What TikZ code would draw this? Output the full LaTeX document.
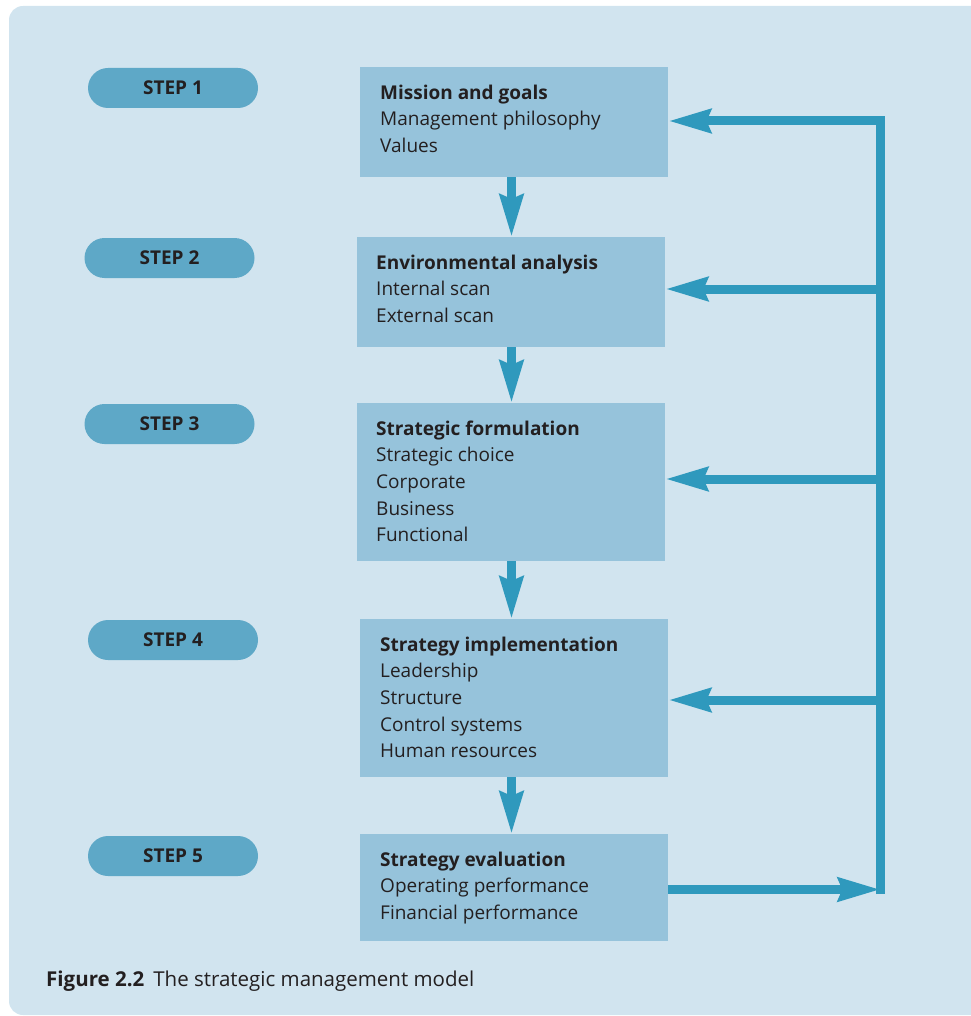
\documentclass[tikz,border=0pt]{standalone}
\usepackage{fontspec}
\setmainfont{Open Sans}
\usetikzlibrary{arrows.meta,calc}
\definecolor{panelbg}{HTML}{D1E4EF}
\definecolor{boxfill}{HTML}{96C3DB}
\definecolor{pillfill}{HTML}{5EA8C7}
\definecolor{flowblue}{HTML}{2F99BD}
\definecolor{ink}{HTML}{231F20}
\tikzset{
  stagebox/.style={fill=boxfill, draw=none, minimum width=308pt, anchor=north west, inner sep=0pt},
  stagetext/.style={anchor=north west, inner sep=0pt, align=left, text=ink,
    font=\fontsize{19}{26.7}\selectfont},
  pill/.style={fill=pillfill, draw=none, rounded corners=20pt, minimum width=170pt,
    minimum height=40pt, inner sep=0pt, text=ink, font=\fontsize{19}{21}\selectfont\bfseries},
  flow/.style={draw=flowblue, line width=9pt, line join=miter,
    -{Stealth[length=42pt, width=23pt, inset=4pt]}},
  fline/.style={draw=flowblue, line width=9pt, line join=miter}
}
\begin{document}
\begin{tikzpicture}[x=1pt, y=-1pt]
\useasboundingbox (0,0) rectangle (970,1016);
% panel
\fill[panelbg, rounded corners=14pt] (9,6) rectangle (990,1015);

% step labels
\node[pill] (s1) at (173,88) {STEP 1};
\node[pill] (s2) at (169.5,258) {STEP 2};
\node[pill] (s3) at (169.5,424) {STEP 3};
\node[pill] (s4) at (173,640) {STEP 4};
\node[pill] (s5) at (173,856) {STEP 5};

% stage boxes
\node[stagebox, minimum height=110pt] (b1) at (360,67) {};
\node[stagebox, minimum height=110pt] (b2) at (357,237) {};
\node[stagebox, minimum height=158pt] (b3) at (357,403) {};
\node[stagebox, minimum height=158pt] (b4) at (360,619) {};
\node[stagebox, minimum height=107pt] (b5) at (360,834) {};

% box texts (first baseline 32pt below the box top)
\node[stagetext] (t1) at ($(b1.north west)+(20,13.3)$) {\strut\textbf{Mission and goals}\\Management philosophy\\Values};
\node[stagetext] (t2) at ($(b2.north west)+(19,13.3)$) {\strut\textbf{Environmental analysis}\\Internal scan\\External scan};
\node[stagetext] (t3) at ($(b3.north west)+(19,13.3)$) {\strut\textbf{Strategic formulation}\\Strategic choice\\Corporate\\Business\\Functional};
\node[stagetext] (t4) at ($(b4.north west)+(20,13.3)$) {\strut\textbf{Strategy implementation}\\Leadership\\Structure\\Control systems\\Human resources};
\node[stagetext] (t5) at ($(b5.north west)+(20,13.3)$) {\strut\textbf{Strategy evaluation}\\Operating performance\\Financial performance};

% downward flow
\coordinate (ax) at (511.5,0);
\draw[flow] (b1.south -| ax) -- (b2.north -| ax);
\draw[flow] (b2.south -| ax) -- (b3.north -| ax);
\draw[flow] (b3.south -| ax) -- (b4.north -| ax);
\draw[flow] (b4.south -| ax) -- (b5.north -| ax);

% feedback loop
\coordinate (r1) at (880.5,121);
\coordinate (r2) at (880.5,289);
\coordinate (r3) at (880.5,479);
\coordinate (r4) at (880.5,700);
\coordinate (r5) at (880.5,889.5);
\coordinate (rb) at (880.5,894);
\draw[flow] (rb) -- (r1) -- (r1 -| b1.east);
\draw[flow] (r2) -- (r2 -| b2.east);
\draw[flow] (r3) -- (r3 -| b3.east);
\draw[flow] (r4) -- (r4 -| b4.east);
\draw[flow] (r5 -| b5.east) -- (r5);

% caption
\node[anchor=base west, inner sep=0pt, text=ink, font=\fontsize{20.5}{24}\selectfont] (cap) at (46,986)
  {\textbf{Figure 2.2}\hspace{9pt}The strategic management model};
\end{tikzpicture}
\end{document}
